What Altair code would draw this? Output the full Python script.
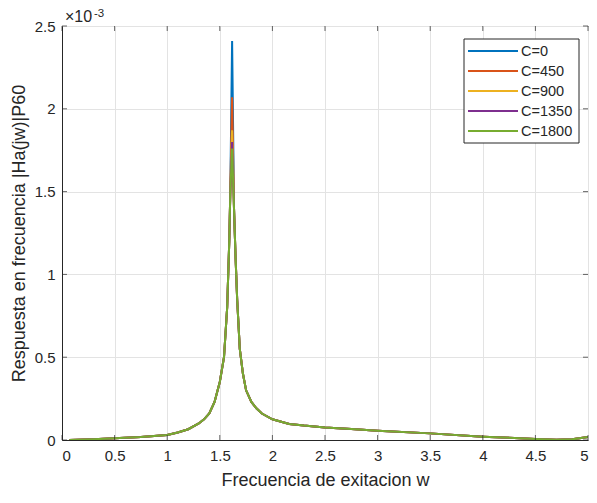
import altair as alt
import pandas as pd

# --- data (response values in units of 1e-3) ---
series = ["C=0", "C=450", "C=900", "C=1350", "C=1800"]
colors = ["#0072BD", "#D95319", "#EDB120", "#7E2F8E", "#77AC30"]
w = [0.07, 0.3, 0.5, 0.75, 1.0, 1.1, 1.2, 1.3, 1.35, 1.4, 1.45, 1.5, 1.54,
     1.57, 1.59, 1.60, 1.617, 1.635, 1.65, 1.665, 1.69, 1.72, 1.75, 1.8,
     1.85, 1.9, 2.0, 2.16, 2.3, 2.5, 2.75, 3.0, 3.5, 4.0, 4.3, 4.5, 4.7,
     4.85, 5.0]
base = [0.0, 0.004, 0.01, 0.018, 0.03, 0.045, 0.065, 0.1, 0.125, 0.16,
        0.23, 0.35, 0.5, 0.8, 1.2, 1.5, None, 1.4, 1.1, 0.85, 0.55, 0.4,
        0.3, 0.23, 0.19, 0.16, 0.125, 0.097, 0.087, 0.076, 0.066, 0.056,
        0.04, 0.02, 0.012, 0.006, 0.001, 0.004, 0.018]
peaks = [2.41, 2.07, 1.87, 1.80, 1.76]
x_ticks = [0, 0.5, 1, 1.5, 2, 2.5, 3, 3.5, 4, 4.5, 5]
y_ticks = [0, 0.5, 1, 1.5, 2, 2.5]

rows = []
for s, pk in zip(series, peaks):
    for i, (wi, bi) in enumerate(zip(w, base)):
        rows.append({"w": wi, "h": pk if bi is None else bi, "serie": s, "i": i})
df = pd.DataFrame(rows)

W, H = 526, 414
FONT = "Liberation Sans"
TXT = "#262626"

xs = alt.Scale(domain=[0, 5], nice=False, zero=False)
ys = alt.Scale(domain=[0, 2.5], nice=False)
color = alt.Color("serie:N", scale=alt.Scale(domain=series, range=colors), legend=None)

layers = []
for s in series:
    layers.append(
        alt.Chart(df).transform_filter(alt.datum.serie == s).mark_line(strokeWidth=2, clip=True).encode(
            x=alt.X("w:Q", scale=xs, title="Frecuencia de exitacion w",
                    axis=alt.Axis(values=x_ticks, format="~g", grid=True)),
            y=alt.Y("h:Q", scale=ys, title="Respuesta en frecuencia |Ha(jw)|P60",
                    axis=alt.Axis(values=y_ticks, format="~g", grid=True)),
            color=color,
            order="i:Q",
        )
    )

# inward ticks on all four sides (MATLAB box style)
xt = pd.DataFrame({"v": x_ticks})
yt = pd.DataFrame({"v": y_ticks})
tick_b = alt.Chart(xt).mark_tick(size=5, thickness=1, color=TXT).encode(
    x=alt.X("v:Q", scale=xs), y=alt.value(H - 2.5))
tick_t = alt.Chart(xt).mark_tick(size=5, thickness=1, color=TXT).encode(
    x=alt.X("v:Q", scale=xs), y=alt.value(2.5))
tick_l = alt.Chart(yt).mark_tick(size=5, thickness=1, color=TXT, orient="horizontal").encode(
    y=alt.Y("v:Q", scale=ys), x=alt.value(2.5))
tick_r = alt.Chart(yt).mark_tick(size=5, thickness=1, color=TXT, orient="horizontal").encode(
    y=alt.Y("v:Q", scale=ys), x=alt.value(W - 2.5))

# exponent label
one = pd.DataFrame({"t": [""]})
exp1 = alt.Chart(one).mark_text(
    font=FONT, fontSize=16, color=TXT, align="left", baseline="alphabetic", text="\u00d710").encode(
    x=alt.value(3), y=alt.value(-4))
exp2 = alt.Chart(one).mark_text(
    font=FONT, fontSize=11.5, color=TXT, align="left", baseline="alphabetic", text="-3").encode(
    x=alt.value(32), y=alt.value(-9.5))

# legend box (drawn by hand to match MATLAB's compact layout)
LX0, LX1, LY0, LY1 = 402, 517, 13, 117
leg_box = alt.Chart(one).mark_rect(fill="white", stroke=TXT, strokeWidth=1).encode(
    x=alt.value(LX0), x2=alt.value(LX1), y=alt.value(LY0), y2=alt.value(LY1))
leg_layers = [leg_box]
for k, (s, c) in enumerate(zip(series, colors)):
    yy = LY0 + 12 + 20 * k
    leg_layers.append(alt.Chart(one).mark_rule(color=c, strokeWidth=2).encode(
        x=alt.value(LX0 + 4), x2=alt.value(LX0 + 54), y=alt.value(yy)))
    leg_layers.append(alt.Chart(one).mark_text(
        font=FONT, fontSize=14.5, color=TXT, align="left", baseline="middle", text=s).encode(
        x=alt.value(LX0 + 57), y=alt.value(yy + 1)))

chart = alt.layer(*layers, tick_b, tick_t, tick_l, tick_r, exp1, exp2, *leg_layers).properties(
    width=W, height=H,
    autosize=alt.AutoSizeParams(type="none"),
    padding={"left": 54, "top": 18, "right": 1, "bottom": 48},
    background="white",
).configure_view(
    stroke=TXT, strokeWidth=1
).configure_axis(
    labelFont=FONT, labelFontSize=15, labelColor=TXT,
    titleFont=FONT, titleFontSize=18, titleColor=TXT, titleFontWeight="normal",
    domainColor=TXT, tickSize=0, gridColor="#e3e3e3", gridWidth=1,
).configure_axisX(
    labelPadding=8, titleY=40, titleBaseline="middle",
).configure_axisY(
    labelPadding=7, titleX=-43, titleBaseline="middle",
)

chart.save("out.html", embed_options={"renderer": "svg", "actions": False})
